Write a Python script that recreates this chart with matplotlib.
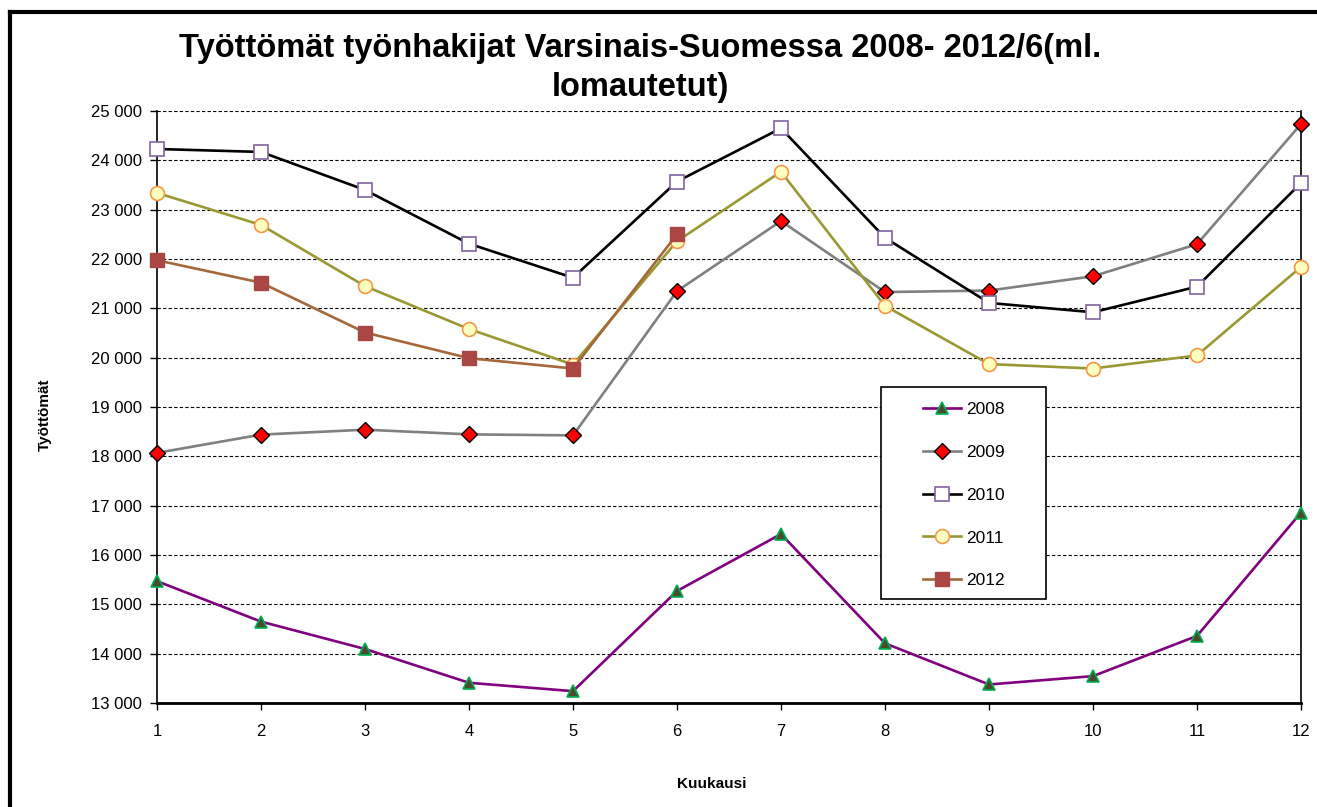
import matplotlib
matplotlib.use('Agg')
import matplotlib.pyplot as plt
from matplotlib.patches import Rectangle
from matplotlib.lines import Line2D
from matplotlib.ticker import FuncFormatter

plt.rcParams['font.family'] = ['Liberation Sans', 'DejaVu Sans']

# Data: unemployed job seekers per month
months = list(range(1, 13))
v2008 = [15470, 14650, 14095, 13410, 13240, 15270, 16425, 14210, 13375, 13545, 14360, 16860]
v2009 = [18070, 18440, 18540, 18445, 18425, 21350, 22770, 21330, 21360, 21650, 22300, 24735]
v2010 = [24230, 24170, 23400, 22310, 21620, 23570, 24650, 22430, 21110, 20920, 21440, 23540]
v2011 = [23340, 22690, 21450, 20580, 19860, 22360, 23770, 21050, 19870, 19780, 20045, 21840]
v2012 = [21975, 21520, 20510, 19990, 19780, 22500]
labels = ['2008', '2009', '2010', '2011', '2012']

W, H = 1317, 807
fig = plt.figure(figsize=(W / 100, H / 100), dpi=100)
ax = fig.add_axes([157 / W, 1 - 703 / H, (1301 - 157) / W, (703 - 111) / H])

lw = 1.9
ax.plot(months, v2008, color='#800080', lw=lw, marker='^', ms=9,
        mfc='#4a4a2c', mec='#00b050', mew=1.2, label=labels[0], zorder=3, clip_on=False)
ax.plot(months, v2009, color='#808080', lw=lw, marker='D', ms=8,
        mfc='#ff0000', mec='black', mew=1.0, label=labels[1], zorder=3, clip_on=False)
ax.plot(months, v2010, color='black', lw=lw, marker='s', ms=10,
        mfc='white', mec='#8064a2', mew=1.2, label=labels[2], zorder=3, clip_on=False)
ax.plot(months, v2011, color='#999933', lw=lw, marker='o', ms=10,
        mfc='#ffffc0', mec='#f79646', mew=1.2, label=labels[3], zorder=3, clip_on=False)
ax.plot(months[:len(v2012)], v2012, color='#a5683a', lw=lw, marker='s', ms=10,
        mfc='#aa4643', mec='#aa4643', mew=1.0, label=labels[4], zorder=3, clip_on=False)

ax.set_xlim(1, 12)
ax.set_ylim(13000, 25000)
ax.set_xticks(months)
ax.set_yticks(range(13000, 25001, 1000))
ax.yaxis.set_major_formatter(FuncFormatter(lambda v, p: f"{int(v):,}".replace(',', ' ')))
ax.grid(axis='y', color='black', linestyle=(0, (3, 2)), linewidth=0.8)
ax.set_axisbelow(True)
ax.tick_params(axis='both', direction='out', length=5, width=1, labelsize=12, colors='black')
ax.tick_params(axis='y', pad=6)
ax.tick_params(axis='x', pad=10)
for s in ['left', 'right']:
    ax.spines[s].set_linewidth(1.2)
ax.spines['bottom'].set_linewidth(2)
ax.spines['top'].set_visible(False)

fig.text(45 / W, 1 - 415 / H, 'Työttömät', rotation=90, ha='center', va='center',
         fontsize=11, fontweight='bold')
fig.text(712 / W, 1 - 784 / H, 'Kuukausi', ha='center', va='center',
         fontsize=11, fontweight='bold')
fig.text(640 / W, 1 - 68 / H, 'Työttömät työnhakijat Varsinais-Suomessa 2008- 2012/6(ml.\nlomautetut)',
         ha='center', va='center', fontsize=23.5, fontweight='bold', linespacing=1.3)

# legend box drawn separately, entries centred inside
fig.add_artist(Rectangle((881 / W, 1 - 599 / H), (1046 - 881) / W, (599 - 387) / H,
                         transform=fig.transFigure, facecolor='white', edgecolor='black',
                         linewidth=1.2, zorder=5))
leg = fig.legend(loc='center', bbox_to_anchor=(964 / W, 1 - 495 / H), frameon=False,
                 fontsize=12.5, handlelength=2.2, labelspacing=1.6, handletextpad=0.3)
leg.set_zorder(6)

# outer chart frame (cut off at right and bottom)
fig.add_artist(Line2D([10 / W, 10 / W], [1 - 12 / H, -0.1], transform=fig.transFigure,
                      color='black', linewidth=3))
fig.add_artist(Line2D([10 / W, 1.1], [1 - 12 / H, 1 - 12 / H], transform=fig.transFigure,
                      color='black', linewidth=3))

fig.savefig('out.png', dpi=100)
